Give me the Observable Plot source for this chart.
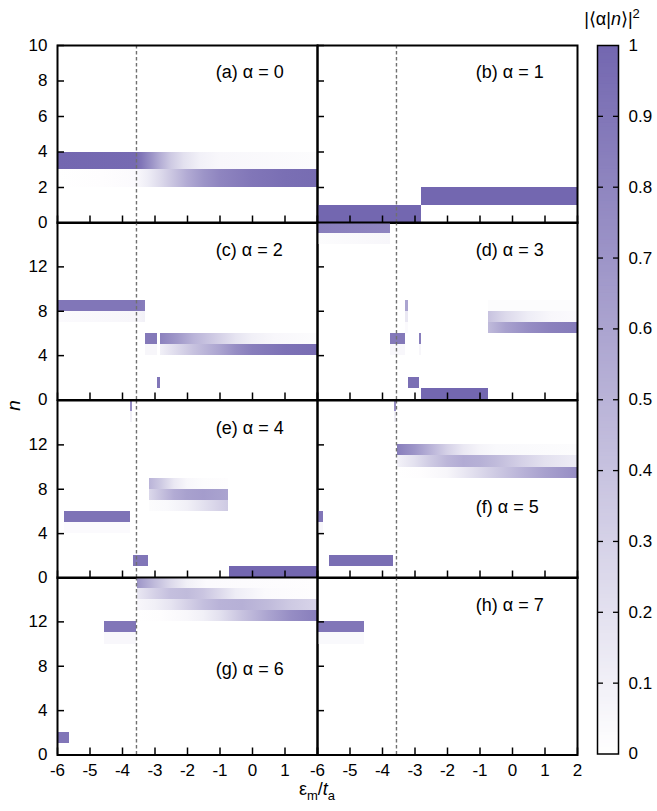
<!DOCTYPE html>
<html>
<head>
<meta charset="utf-8">
<script src="https://cdn.jsdelivr.net/npm/d3@7"></script>
<script src="https://cdn.jsdelivr.net/npm/@observablehq/plot@0.6"></script>
<style>
  body { margin: 0; background: #fff; }
  #fig { position: relative; width: 657px; height: 811px; font-family: "Liberation Sans", Arial, sans-serif; color: #000; }
  #fig svg { position: absolute; overflow: visible; }
  .lbl { position: absolute; white-space: nowrap; font-size: 18px; line-height: 1; }
</style>
</head>
<body>
<div id="fig"></div>
<script>
// Weight |<alpha|n>|^2 of each eigenstate alpha on photon number n, versus eps_m / t_a.
// A band occupies n..n+1; "v" is either a constant weight or [eps, weight] readings along the band.
const alpha0Bands = [
  {n: 3, from: -6, to: 2, v: [[-6, 1], [-3.57, 0.98], [-3.4, 0.9], [-3.1, 0.72], [-2.8, 0.52], [-2.5, 0.35], [-2.1, 0.2], [-1.6, 0.09], [-1, 0.05], [2, 0.02]]},
  {n: 2, from: -6, to: 2, v: [[-6, 0], [-4.6, 0.01], [-3.6, 0.03], [-3.2, 0.12], [-2.8, 0.25], [-2.4, 0.4], [-2, 0.55], [-1.5, 0.7], [-1, 0.8], [0, 0.9], [1, 0.95], [2, 0.97]]}
];
const alpha1Bands = [
  {n: 0, from: -6, to: -2.8, v: 1},
  {n: 1, from: -2.8, to: 2, v: 1}
];
const alpha2Bands = [
  {n: 8, from: -6, to: -3.28, v: [[-6, 0.9], [-3.6, 0.9], [-3.28, 0.85]]},
  {n: 7, from: -6, to: -3.28, v: [[-6, 0.03], [-3.6, 0.06], [-3.28, 0.1]]},
  {n: 5, from: -3.28, to: -2.92, v: 0.88},
  {n: 4, from: -3.28, to: -2.92, v: 0.06},
  {n: 1, from: -2.92, to: -2.82, v: 0.9},
  {n: 5, from: -2.82, to: 2, v: [[-2.82, 0.82], [-2.3, 0.68], [-1.8, 0.5], [-1, 0.3], [-0.5, 0.18], [0, 0.1], [0.7, 0.05], [2, 0.02]]},
  {n: 4, from: -2.82, to: 2, v: [[-2.82, 0.1], [-2.3, 0.25], [-1.8, 0.4], [-1, 0.6], [-0.5, 0.75], [0, 0.85], [1, 0.93], [2, 0.96]]}
];
const alpha3Bands = [
  {n: 15, from: -6, to: -3.74, v: [[-6, 0.85], [-3.74, 0.8]]},
  {n: 14, from: -6, to: -3.74, v: [[-6, 0.02], [-3.74, 0.06]]},
  {n: 5, from: -3.74, to: -3.28, v: 0.88},
  {n: 4, from: -3.74, to: -3.28, v: 0.05},
  {n: 8, from: -3.28, to: -3.21, v: 0.6},
  {n: 7, from: -3.28, to: -3.21, v: 0.15},
  {n: 6, from: -3.28, to: -3.21, v: 0.03},
  {n: 1, from: -3.2, to: -2.86, v: 0.95},
  {n: 5, from: -2.86, to: -2.8, v: 0.85},
  {n: 4, from: -2.86, to: -2.8, v: 0.06},
  {n: 0, from: -2.8, to: -0.74, v: 1},
  {n: 8, from: -0.74, to: 2, v: 0.02},
  {n: 7, from: -0.74, to: 2, v: [[-0.74, 0.4], [-0.2, 0.25], [0.5, 0.12], [1.2, 0.05], [2, 0.03]]},
  {n: 6, from: -0.74, to: 2, v: [[-0.74, 0.45], [-0.2, 0.62], [0.5, 0.75], [1.2, 0.83], [2, 0.87]]}
];
const alpha4Bands = [
  {n: 15, from: -3.74, to: -3.68, v: 0.75},
  {n: 14, from: -3.74, to: -3.68, v: 0.1},
  {n: 5, from: -5.8, to: -3.74, v: 0.92},
  {n: 4, from: -5.8, to: -3.74, v: 0.03},
  {n: 1, from: -3.67, to: -3.2, v: 0.9},
  {n: 8, from: -3.18, to: -0.74, v: [[-3.18, 0.5], [-2.8, 0.35], [-2.4, 0.15], [-2, 0.05], [-1.5, 0.02], [-0.74, 0.01]]},
  {n: 7, from: -3.18, to: -0.74, v: [[-3.18, 0.25], [-2.8, 0.4], [-2.4, 0.55], [-2, 0.62], [-1.5, 0.65], [-1, 0.62], [-0.74, 0.6]]},
  {n: 6, from: -3.18, to: -0.74, v: [[-3.18, 0.02], [-2.6, 0.04], [-2, 0.1], [-1.5, 0.2], [-1, 0.3], [-0.74, 0.35]]},
  {n: 0, from: -0.72, to: 2, v: 1}
];
const alpha5Bands = [
  {n: 15, from: -3.64, to: -3.56, v: 0.75},
  {n: 14, from: -3.64, to: -3.56, v: 0.1},
  {n: 5, from: -6, to: -5.83, v: 0.9},
  {n: 4, from: -6, to: -5.83, v: 0.05},
  {n: 1, from: -5.64, to: -3.66, v: 0.95},
  {n: 11, from: -3.54, to: 2, v: [[-3.54, 0.85], [-3, 0.7], [-2.5, 0.5], [-2, 0.3], [-1.5, 0.15], [-1, 0.07], [-0.5, 0.04], [2, 0.02]]},
  {n: 10, from: -3.54, to: 2, v: [[-3.54, 0.08], [-3, 0.2], [-2.5, 0.35], [-2, 0.48], [-1.5, 0.55], [-1, 0.52], [-0.5, 0.45], [0.3, 0.3], [1, 0.2], [2, 0.12]]},
  {n: 9, from: -3.54, to: 2, v: [[-3.54, 0], [-2.8, 0.01], [-2, 0.06], [-1.5, 0.15], [-1, 0.25], [-0.5, 0.35], [0.3, 0.5], [1, 0.62], [2, 0.75]]}
];
const alpha6Bands = [
  {n: 1, from: -6, to: -5.64, v: 0.9},
  {n: 11, from: -4.54, to: -3.56, v: 0.9},
  {n: 10, from: -4.54, to: -3.56, v: 0.05},
  {n: 15, from: -3.54, to: 2, v: [[-3.54, 0.7], [-3, 0.45], [-2.5, 0.25], [-2, 0.1], [-1.4, 0.03], [2, 0.01]]},
  {n: 14, from: -3.54, to: 2, v: [[-3.54, 0.15], [-3, 0.3], [-2.5, 0.42], [-2, 0.45], [-1.5, 0.38], [-1, 0.25], [-0.5, 0.12], [0.4, 0.03], [2, 0.01]]},
  {n: 13, from: -3.54, to: 2, v: [[-3.54, 0.05], [-3, 0.1], [-2.5, 0.18], [-2, 0.3], [-1.5, 0.42], [-1, 0.5], [-0.3, 0.52], [0.5, 0.45], [1.2, 0.35], [2, 0.28]]},
  {n: 12, from: -3.54, to: 2, v: [[-3.54, 0], [-2.8, 0.01], [-2, 0.05], [-1.5, 0.1], [-1, 0.2], [-0.3, 0.4], [0.5, 0.6], [1.2, 0.75], [2, 0.85]]}
];
const alpha7Bands = [
  {n: 11, from: -6, to: -4.54, v: 0.9},
  {n: 10, from: -6, to: -4.54, v: 0.04}
];

// Tick values and labels
const epsTicks = [-6, -5, -4, -3, -2, -1, 0, 1, 2];
const nTicksTop = [0, 2, 4, 6, 8, 10];
const nTicksLower = [0, 4, 8, 12];
const weightTicks = [0.1, 0.2, 0.3, 0.4, 0.5, 0.6, 0.7, 0.8, 0.9];
const weightLabels = [0, 0.1, 0.2, 0.3, 0.4, 0.5, 0.6, 0.7, 0.8, 0.9, 1];
const crossingEps = -3.57;

// Panel grid: letter, alpha, bands, grid cell, label anchor (eps, n)
const panels = [
  {tag: "a", alpha: 0, bands: alpha0Bands, row: 0, col: 0, at: [-1.13, 8.5]},
  {tag: "b", alpha: 1, bands: alpha1Bands, row: 0, col: 1, at: [-1.13, 8.5]},
  {tag: "c", alpha: 2, bands: alpha2Bands, row: 1, col: 0, at: [-1.13, 13.5]},
  {tag: "d", alpha: 3, bands: alpha3Bands, row: 1, col: 1, at: [-1.13, 13.5]},
  {tag: "e", alpha: 4, bands: alpha4Bands, row: 2, col: 0, at: [-1.13, 13.5]},
  {tag: "f", alpha: 5, bands: alpha5Bands, row: 2, col: 1, at: [-1.13, 6.4]},
  {tag: "g", alpha: 6, bands: alpha6Bands, row: 3, col: 0, at: [-1.13, 7.7]},
  {tag: "h", alpha: 7, bands: alpha7Bands, row: 3, col: 1, at: [-1.13, 13.5]}
];

const FONT = '"Liberation Sans", Arial, sans-serif';
const PURPLE = "#7367b0";
const shade = Plot.scale({color: {type: "linear", domain: [0, 1], range: ["#ffffff", PURPLE]}});

const colX = [56.7, 316.7], W = 260;
const rowY = [44.7, 222.2, 399.7, 577.2], H = 177.5;
const mL = 50, mR = 12, mT = 12, mB = 40;
const fig = document.getElementById("fig");

function stopsOf(b) {
  return typeof b.v === "number" ? [[b.from, b.v], [b.to, b.v]] : b.v;
}

for (const p of panels) {
  const top = p.row === 0;
  const yMax = top ? 10 : 16;
  const yTicks = top ? nTicksTop : nTicksLower;
  const bands = p.bands.map((b, i) => ({...b, paint: `url(#w-${p.tag}-${i})`}));
  const svg = Plot.plot({
    width: W + mL + mR,
    height: H + mT + mB,
    marginLeft: mL, marginRight: mR, marginTop: mT, marginBottom: mB,
    style: {background: "none", overflow: "visible", fontFamily: FONT, fontSize: "17px", color: "black"},
    x: {domain: [-6, 2], axis: null},
    y: {domain: [0, yMax], axis: null},
    color: {type: "identity"},
    marks: [
      Plot.rect(bands, {x1: "from", x2: "to", y1: "n", y2: d => d.n + 1, fill: "paint", shapeRendering: "crispEdges"}),
      Plot.ruleX([crossingEps], {stroke: "#707070", strokeWidth: 1.4, strokeDasharray: "3.5,2.5"}),
      Plot.axisX(epsTicks, {anchor: "bottom", tickSize: 7, dy: -7, fill: "none", strokeWidth: 1.5, label: null}),
      Plot.axisY(yTicks, {anchor: "left", tickSize: 7, dx: 7, fill: "none", strokeWidth: 1.5, label: null}),
      p.row === 3 ? Plot.axisX(p.col === 0 ? epsTicks.slice(0, -1) : epsTicks, {anchor: "bottom", tickSize: 0, tickPadding: 9, tickFormat: d => String(d), label: null}) : null,
      p.col === 0 ? Plot.axisY(yTicks, {anchor: "left", tickSize: 0, tickPadding: 10, tickFormat: d => String(d), label: null}) : null,
      Plot.text([p], {x: () => p.at[0], y: () => p.at[1], text: d => `(${d.tag}) α = ${d.alpha}`, textAnchor: "start", fontSize: 18}),
      Plot.frame({stroke: "black", strokeWidth: 2})
    ]
  });
  // Horizontal weight gradients along each band, coloured through the weight scale
  const defs = d3.select(svg).insert("defs", ":first-child");
  bands.forEach((b, i) => {
    const g = defs.append("linearGradient").attr("id", `w-${p.tag}-${i}`);
    for (const [x, v] of stopsOf(b)) {
      g.append("stop").attr("offset", (x - b.from) / (b.to - b.from)).attr("stop-color", shade.apply(v));
    }
  });
  svg.style.left = `${colX[p.col] - mL}px`;
  svg.style.top = `${rowY[p.row] - mT}px`;
  fig.appendChild(svg);
}

// Colour bar for the weight
const cbX = 597.3, cbW = 21, cbTop = 44.7, cbH = 708.5;
const cbM = {l: 10, r: 50, t: 12, b: 12};
const cbCells = d3.range(0, 200).map(i => i / 200);
const bar = Plot.plot({
  width: cbW + cbM.l + cbM.r,
  height: cbH + cbM.t + cbM.b,
  marginLeft: cbM.l, marginRight: cbM.r, marginTop: cbM.t, marginBottom: cbM.b,
  style: {background: "none", overflow: "visible", fontFamily: FONT, fontSize: "17px", color: "black"},
  x: {domain: [0, 1], axis: null},
  y: {domain: [0, 1], axis: null},
  color: {type: "linear", domain: [0, 1], range: ["#ffffff", PURPLE]},
  marks: [
    Plot.rect(cbCells, {x1: 0, x2: 1, y1: d => d, y2: d => Math.min(1, d + 0.0065), fill: d => d + 0.0025}),
    Plot.axisY(weightTicks, {anchor: "left", tickSize: 6, dx: 6, fill: "none", strokeWidth: 1.3, label: null}),
    Plot.axisY(weightTicks, {anchor: "right", tickSize: 6, dx: -6, fill: "none", strokeWidth: 1.3, label: null}),
    Plot.axisY(weightLabels, {anchor: "right", tickSize: 0, tickPadding: 10, tickFormat: d => String(d), label: null}),
    Plot.frame({stroke: "black", strokeWidth: 1.5})
  ]
});
bar.style.left = `${cbX - cbM.l}px`;
bar.style.top = `${cbTop - cbM.t}px`;
fig.appendChild(bar);

// Axis titles
function label(html, css) {
  const el = document.createElement("div");
  el.className = "lbl";
  el.innerHTML = html;
  Object.assign(el.style, css);
  fig.appendChild(el);
}
label('<i>n</i>', {left: "8px", top: "396px", transform: "rotate(-90deg)", fontSize: "19px"});
label('ε<sub style="font-size:13px">m</sub>/<i>t</i><sub style="font-size:13px">a</sub>', {left: "217px", width: "200px", textAlign: "center", top: "780px"});
label('|⟨α|<i>n</i>⟩|<sup style="font-size:13px">2</sup>', {left: "562px", width: "100px", textAlign: "center", top: "7px"});
</script>
</body>
</html>
